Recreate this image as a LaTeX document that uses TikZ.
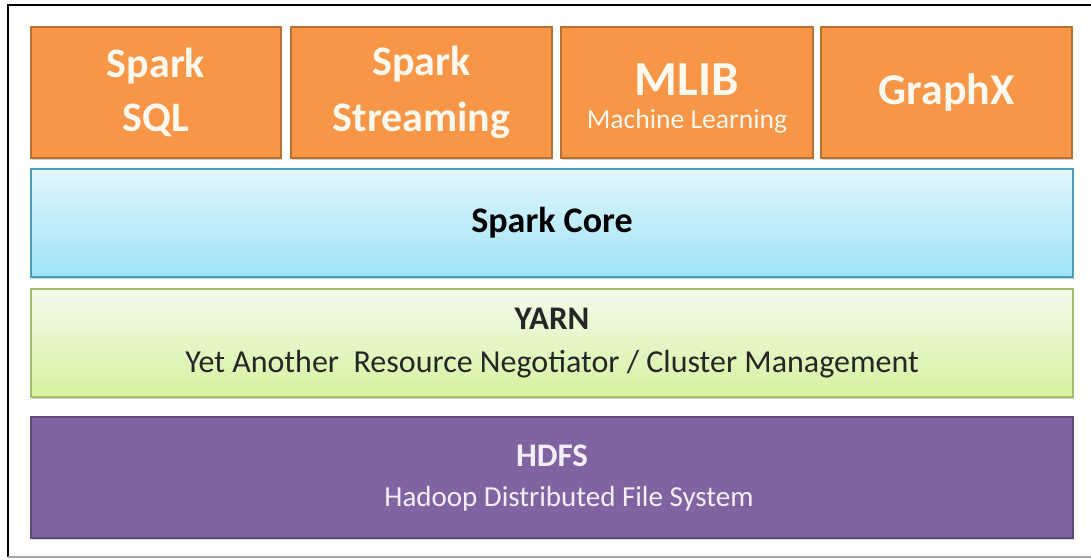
\documentclass[tikz,border=0pt]{standalone}
\usepackage{fontspec}
\setmainfont{Carlito}
\usetikzlibrary{positioning,shadows}

\definecolor{libfill}{HTML}{F79646}
\definecolor{libedge}{HTML}{B8712F}
\definecolor{libtext}{HTML}{FFF8EE}
\definecolor{coretop}{HTML}{E2F6FC}
\definecolor{corebot}{HTML}{9EE3F7}
\definecolor{coreedge}{HTML}{4A9FB8}
\definecolor{yarntop}{HTML}{F4FBEC}
\definecolor{yarnbot}{HTML}{D5F2A0}
\definecolor{yarnedge}{HTML}{A3BD6A}
\definecolor{hdfsfill}{HTML}{8064A2}
\definecolor{hdfsedge}{HTML}{5E4A7A}
\definecolor{hdfstext}{HTML}{F4EEF9}

\begin{document}
\begin{tikzpicture}[
      x=0.5pt, y=0.5pt,
      every node/.style={inner sep=0pt, outer sep=0pt, align=center},
      softshadow/.style={drop shadow={shadow xshift=0.6pt, shadow yshift=-1.2pt, opacity=0.3, fill=black!60}},
      lib/.style={draw=libedge, line width=0.8pt, fill=libfill, text=libtext, minimum height=65.5pt, softshadow, font=\bfseries},
      layer/.style={line width=0.8pt, minimum width=521pt, softshadow},
      core/.style={layer, draw=coreedge, top color=coretop, bottom color=corebot, minimum height=54pt, text=black},
      yarn/.style={layer, draw=yarnedge, top color=yarntop, bottom color=yarnbot, minimum height=54pt, text=black!85},
      hdfs/.style={layer, draw=hdfsedge, fill=hdfsfill, minimum height=60.5pt, text=hdfstext},
    ]
    \useasboundingbox (0,0) rectangle (1091,-559);

    % Frame
    \draw[line width=1pt] (1091,-5) -- (8,-5) -- (8,-557);
    \draw[black!35, line width=0.8pt] (8,-557) -- (1091,-557);

    % Library row
    \node[lib, minimum width=125pt, anchor=north west] (sql) at (31,-27)
      {\fontsize{21}{26}\selectfont Spark\\[9pt]\fontsize{21}{26}\selectfont SQL};
    \node[lib, minimum width=130.5pt, right=5pt of sql] (streaming)
      {\fontsize{21}{26}\selectfont Spark\\[9pt]\fontsize{21}{26}\selectfont Streaming};
    \node[lib, minimum width=126pt, right=4.5pt of streaming] (mlib)
      {\fontsize{24.5}{24}\selectfont\rule{0pt}{22pt}MLIB\\[4.5pt]\fontsize{13.8}{16}\selectfont\mdseries Machine Learning};
    \node[lib, minimum width=125.5pt, right=4pt of mlib] (graphx)
      {\fontsize{22}{26}\selectfont GraphX};

    % Layers
    \node[core, below=5.5pt of sql.south west, anchor=north west] (core)
      {\fontsize{18}{22}\selectfont\bfseries Spark Core};
    \node[yarn, below=6pt of core] (yarnlayer)
      {\fontsize{16.5}{20}\selectfont\bfseries YARN\\[9.5pt]\fontsize{16}{20}\selectfont Yet Another\ \ Resource Negotiator / Cluster Management};
    \node[hdfs, below=10pt of yarnlayer] (hdfslayer)
      {\fontsize{16.5}{19}\selectfont\bfseries HDFS\\[8pt]\fontsize{14.5}{19}\selectfont\hspace*{17pt}Hadoop Distributed File System};
  \end{tikzpicture}
\end{document}
